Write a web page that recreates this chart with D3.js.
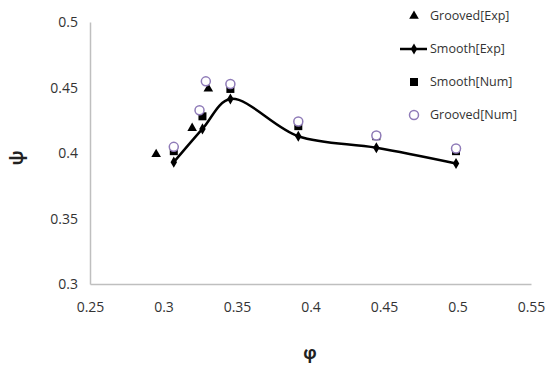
<!DOCTYPE html>
<html>
<head>
<meta charset="utf-8">
<script src="https://cdn.jsdelivr.net/npm/d3@7"></script>
<style>
  body { margin: 0; background: #fff; }
  text { font-family: "Open Sans", "Liberation Sans", sans-serif; }
</style>
</head>
<body>
<div id="chart"></div>
<script>
// data
const groovedExpPhi = [0.295, 0.3195, 0.3305]
const groovedExpPsi = [0.399, 0.419, 0.449]

const smoothExpPhi = [0.307, 0.3265, 0.3455, 0.3917, 0.4448, 0.499]
const smoothExpPsi = [0.393, 0.4184, 0.4412, 0.4128, 0.404, 0.392]

const smoothNumPhi = [0.307, 0.3265, 0.3455, 0.3917, 0.4448, 0.499]
const smoothNumPsi = [0.4014, 0.428, 0.4489, 0.4205, 0.4128, 0.4014]

const groovedNumPhi = [0.307, 0.3245, 0.3288, 0.3455, 0.3917, 0.4448, 0.499]
const groovedNumPsi = [0.4047, 0.4326, 0.4547, 0.4527, 0.424, 0.4134, 0.4034]

const xTicks = [0.25, 0.3, 0.35, 0.4, 0.45, 0.5, 0.55]
const yTicks = [0.3, 0.35, 0.4, 0.45, 0.5]

const legendNames = ["Grooved[Exp]", "Smooth[Exp]", "Smooth[Num]", "Grooved[Num]"]

const width = 548, height = 365
const purple = "#8f7bb8"

const svg = d3.select("#chart").append("svg")
  .attr("width", width)
  .attr("height", height)

const x = d3.scaleLinear().domain([0.25, 0.55]).range([90, 531])
const y = d3.scaleLinear().domain([0.3, 0.5]).range([284, 22])

const zip = (a, b) => a.map((v, i) => [v, b[i]])

// axes
const xAxis = svg.append("g")
  .attr("transform", `translate(0,${y(0.3)})`)
  .call(d3.axisBottom(x).tickValues(xTicks).tickSize(0).tickPadding(18).tickFormat(d => d3.format("")(+d.toFixed(2))))
const yAxis = svg.append("g")
  .attr("transform", `translate(${x(0.25)},0)`)
  .call(d3.axisLeft(y).tickValues(yTicks).tickSize(0).tickPadding(12).tickFormat(d => d3.format("")(+d.toFixed(2))))

for (let ax of [xAxis, yAxis]) {
  ax.select(".domain").attr("stroke", "#bfbfbf").attr("stroke-width", 1.5)
  ax.selectAll("text").attr("fill", "#333").style("font-size", "14px")
}
yAxis.selectAll("text").attr("dy", "0.35em")

// axis titles
svg.append("text")
  .attr("transform", "translate(18,158) rotate(-90)")
  .attr("text-anchor", "middle").attr("dominant-baseline", "middle")
  .style("font-size", "18px").style("font-weight", "bold").attr("fill", "#222")
  .text("ψ")
svg.append("text").attr("x", 310).attr("y", 354)
  .attr("text-anchor", "middle").attr("dominant-baseline", "middle")
  .style("font-size", "17px").style("font-weight", "bold").attr("fill", "#222")
  .text("φ")

const tri = d3.symbol().type(d3.symbolTriangle).size(40)
const sq = d3.symbol().type(d3.symbolSquare).size(64)
const dia = d3.symbol().type(d3.symbolDiamond).size(36)

// smooth exp line
const line = d3.line().x(d => x(d[0])).y(d => y(d[1])).curve(d3.curveCatmullRom.alpha(0.5))
svg.append("path")
  .datum(zip(smoothExpPhi, smoothExpPsi))
  .attr("d", line)
  .attr("fill", "none")
  .attr("stroke", "#000")
  .attr("stroke-width", 2.5)

svg.selectAll(".sexp").data(zip(smoothExpPhi, smoothExpPsi)).enter()
  .append("path").attr("class", "sexp")
  .attr("d", dia)
  .attr("transform", d => `translate(${x(d[0])},${y(d[1])})`)
  .attr("fill", "#000")

svg.selectAll(".snum").data(zip(smoothNumPhi, smoothNumPsi)).enter()
  .append("path").attr("class", "snum")
  .attr("d", sq)
  .attr("transform", d => `translate(${x(d[0])},${y(d[1])})`)
  .attr("fill", "#000")

svg.selectAll(".gexp").data(zip(groovedExpPhi, groovedExpPsi)).enter()
  .append("path").attr("class", "gexp")
  .attr("d", tri)
  .attr("transform", d => `translate(${x(d[0])},${y(d[1])})`)
  .attr("fill", "#000")

svg.selectAll(".gnum").data(zip(groovedNumPhi, groovedNumPsi)).enter()
  .append("circle").attr("class", "gnum")
  .attr("cx", d => x(d[0]))
  .attr("cy", d => y(d[1]))
  .attr("r", 4.5)
  .attr("fill", "#fff")
  .attr("stroke", purple)
  .attr("stroke-width", 1.5)

// legend
const legend = svg.append("g")
const ly = [16, 49, 82, 115]
legendNames.forEach((name, i) => {
  let g = legend.append("g").attr("transform", `translate(414,${ly[i]})`)
  if (i == 0) g.append("path").attr("d", tri).attr("fill", "#000")
  if (i == 1) {
    g.append("line").attr("x1", -14).attr("x2", 13).attr("stroke", "#000").attr("stroke-width", 2.5)
    g.append("path").attr("d", dia).attr("fill", "#000")
  }
  if (i == 2) g.append("path").attr("d", sq).attr("fill", "#000")
  if (i == 3) g.append("circle").attr("r", 4.5).attr("fill", "#fff").attr("stroke", purple).attr("stroke-width", 1.5)
  g.append("text").attr("x", 16).attr("dy", "0.35em")
    .style("font-size", "12.5px").attr("fill", "#333")
    .text(name)
})
</script>
</body>
</html>
